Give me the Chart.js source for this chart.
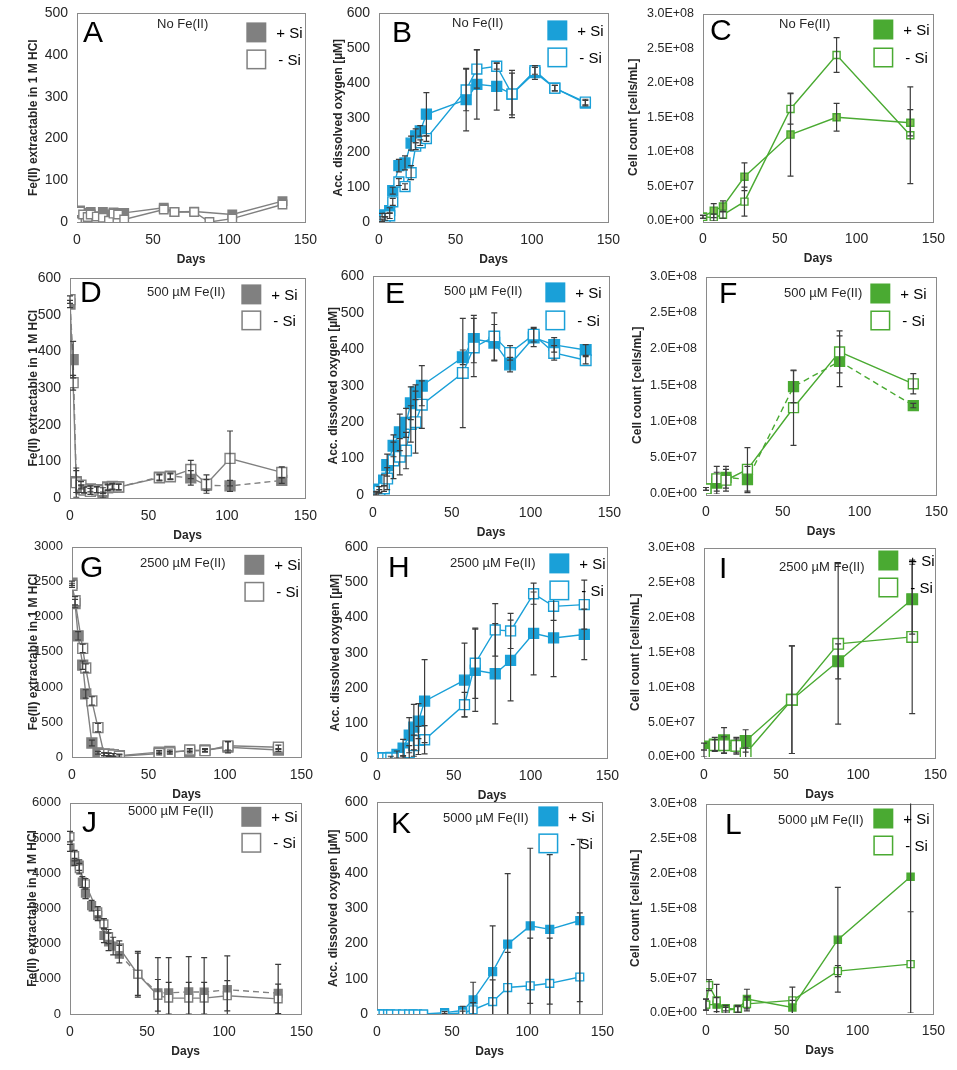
<!DOCTYPE html>
<html><head><meta charset="utf-8">
<script src="https://cdn.jsdelivr.net/npm/chart.js@4"></script>
<style>body{margin:0;background:#fff}#grid{position:relative;width:957px;height:1070px;overflow:hidden}.cell{position:absolute}</style>
</head><body><div id="grid"></div>
<script>
const days = [0, 2, 4, 7, 9, 13, 17, 21, 24, 27, 31, 57, 64, 77, 87, 102, 115, 135];
const cellDays = [0, 7, 13, 27, 57, 87, 135];
const cellDaysI = [0, 7, 13, 21, 27, 57, 87, 135];
const cellDaysL = [0, 2, 7, 13, 21, 27, 57, 87, 135];

// panel A: Fe(II), no Fe
const aDays = [0, 2, 4, 7, 9, 13, 17, 21, 24, 27, 31, 57, 64, 77, 87, 102, 135];
const aPlus = [0, 28, 20, 22, 24, 14, 24, 18, 23, 22, 22, 34, 24, 25, null, 18, 50];
const aMinus = [0, 25, 18, 12, 18, 13, 10, 3, 20, 18, 6, 30, 24, 24, 0, 8, 42];
// panel B: O2, no Fe
const bPlus = [0, 20, 20, 33, 90, 162, 170, 227, 248, 262, 310, 352, 396, 390, 368, 430, 385, 342];
const bPlusErr = [0, 5, 5, 8, 10, 18, 20, 20, 20, 15, 62, 90, 100, 68, 68, 20, 8, 8];
const bMinus = [0, 5, 10, 18, 58, 115, 102, 142, 218, 228, 240, 380, 440, 448, 368, 435, 385, 345];
const bMinusErr = [0, 3, 5, 8, 10, 10, 8, 20, 10, 8, 8, 60, 55, 8, 60, 10, 8, 8];
// panel C: cells, no Fe
const cPlus = [6e6, 1.5e7, 2.1e7, 6.4e7, 1.25e8, 1.5e8, 1.42e8];
const cPlusErr = [2e6, 1e7, 8e6, 2e7, 6e7, 2e7, 1.9e7];
const cMinus = [6e6, 5e6, 9e6, 2.8e7, 1.62e8, 2.4e8, 1.24e8];
const cMinusErr = [2e6, 5e6, 5e6, 2.1e7, 2.2e7, 2.5e7, 7e7];
// panel D: Fe(II), 500 µM
const dPlus = [530, 378, 45, 25, 22, 25, 23, 8, 30, 32, 30, 57, 60, 55, 35, 33, null, 48];
const dPlusErr = [10, 50, 30, 10, 8, 8, 8, 8, 8, 8, 8, 8, 8, 20, 15, 15, 0, 8];
const dMinus = [542, 315, 42, 35, 22, 18, 22, 20, 28, 30, 30, 55, 58, 78, 38, 108, null, 70];
const dMinusErr = [10, 20, 40, 10, 8, 8, 8, 8, 8, 8, 8, 8, 8, 25, 25, 75, 0, 15];
// panel E: O2, 500 µM
const ePlus = [0, 5, 15, 40, 82, 135, 172, 198, 252, 282, 300, 378, 428, 418, 358, 432, 412, 398];
const ePlusErr = [0, 5, 8, 15, 30, 30, 50, 40, 45, 20, 55, 20, 65, 50, 20, 25, 20, 15];
const eMinus = [0, 3, 10, 18, 45, 95, 105, 122, 195, 200, 248, 335, 405, 435, 390, 440, 390, 370];
const eMinusErr = [0, 3, 5, 8, 30, 50, 50, 50, 50, 85, 65, 150, 80, 65, 20, 20, 20, 10];
// panel F: cells, 500 µM
const fPlus = [7e6, 1.5e7, 2.3e7, 2e7, 1.48e8, 1.83e8, 1.22e8];
const fPlusErr = [2e6, 1.5e7, 1.5e7, 1.8e7, 2.2e7, 3.5e7, 3e6];
const fMinus = [7e6, 2.1e7, 1.9e7, 3.4e7, 1.19e8, 1.96e8, 1.52e8];
const fMinusErr = [2e6, 1.7e7, 1.5e7, 3e7, 5.2e7, 2.9e7, 1.4e7];
// panel G: Fe(II), 2500 µM
const gPlus = [2480, 2190, 1730, 1310, 900, 200, 60, 40, 30, 30, 20, 70, 80, 80, 100, 140, null, 100];
const gPlusErr = [30, 60, 60, 60, 60, 40, 20, 20, 20, 20, 20, 20, 20, 20, 20, 80, 0, 20];
const gMinus = [2450, 2230, null, 1550, 1270, 800, 420, 40, 40, 30, 10, 50, 60, 100, 90, 160, null, 140];
const gMinusErr = [30, 60, 0, 60, 60, 60, 60, 20, 20, 20, 20, 20, 20, 20, 20, 60, 0, 30];
// panel H: O2, 2500 µM
const hPlus = [0, 0, 0, 0, 2, 10, 28, 65, 88, 105, 162, 222, 250, 240, 278, 355, 342, 352];
const hPlusErr = [0, 0, 0, 0, 3, 10, 25, 50, 65, 50, 118, 105, 117, 143, 115, 118, 110, 72];
const hMinus = [0, 0, 0, 0, 0, 0, 2, 15, 35, 50, 52, 152, 270, 365, 362, 468, 432, 437];
const hMinusErr = [0, 0, 0, 0, 0, 0, 5, 20, 30, 40, 40, 35, 100, 75, 50, 30, 40, 70];
// panel I: cells, 2500 µM
const iPlus = [1.5e7, 1.8e7, 2.4e7, 1.6e7, 2.3e7, 8.2e7, 1.37e8, 2.26e8];
const iPlusErr = [5e6, 1e7, 1.8e7, 1.2e7, 1.6e7, 7.7e7, 2.5e7, 5e7];
const iMinus = [5e6, 1.7e7, 1.7e7, 1.6e7, 5e6, 8.2e7, 1.62e8, 1.72e8];
const iMinusErr = [5e6, 8e6, 1.2e7, 1e7, 8e6, 7.7e7, 1.15e8, 1.1e8];
// panel J: Fe(II), 5000 µM
const jDays = [0, 3, 6, 8, 10, 14, 18, 22, 25, 28, 32, 44, 57, 64, 77, 87, 102, 135];
const jPlus = [4720, 4320, 4230, 3750, 3430, 3080, 2800, 2230, 2050, 1930, 1700, 1130, 600, 600, 630, 620, 690, 590];
const jPlusErr = [100, 100, 150, 150, 150, 150, 150, 200, 250, 250, 250, 650, 1000, 1000, 1000, 980, 960, 820];
const jMinus = [5040, 4500, 4130, null, 3700, null, 2900, 2560, 2200, null, 1880, 1130, 530, 450, 450, 450, 520, 430];
const jMinusErr = [150, 150, 150, 0, 150, 0, 150, 150, 200, 0, 200, 600, 450, 450, 450, 450, 430, 420];
// panel K: O2, 5000 µM
const kDays = [0, 2, 4, 7, 9, 13, 17, 21, 24, 27, 31, 45, 57, 64, 77, 87, 102, 115, 135];
const kPlus = [0, 0, 0, 0, 0, 0, 0, 0, 0, 0, 0, 4, 10, 40, 120, 198, 250, 240, 265];
const kPlusErr = [0, 0, 0, 0, 0, 0, 0, 0, 0, 0, 0, 3, 12, 50, 130, 200, 220, 212, 230];
const kMinus = [0, 0, 0, 0, 0, 0, 0, 0, 0, 0, 0, 0, 3, 12, 35, 75, 80, 87, 105];
const kMinusErr = [0, 0, 0, 0, 0, 0, 0, 0, 0, 0, 0, 0, 5, 20, 62, 100, 135, 128, 182];
// panel L: cells, 5000 µM
const lPlus = [1.2e7, null, 1.2e7, 7e6, 5e6, 2e7, 8e6, 1.05e8, 1.95e8];
const lPlusErr = [8e6, 0, 1e7, 4e6, 4e6, 1.4e7, 1e7, 7.5e7, 1.95e8];
const lMinus = [1.2e7, 4e7, 1.8e7, 4e6, 6e6, 1.3e7, 1.8e7, 6e7, 7e7];
const lMinusErr = [8e6, 8e6, 2.3e7, 4e6, 5e6, 1e7, 1.9e7, 8e6, 7.5e7];

const grey = "#808080", blue = "#1aa0d8", green = "#4aaa32";
const hclTitle = "Fe(II) extractable in 1 M HCl";
const o2Title = "Acc. dissolved oxygen [µM]";
const cellTitle = "Cell count [cells/mL]";
const FONT = "Arial, 'Liberation Sans', sans-serif";

const errorBars = {
  id: "errorBars",
  afterDatasetsDraw(chart) {
    const c = chart.ctx, ys = chart.scales.y, area = chart.chartArea;
    chart.data.datasets.forEach((ds, di) => {
      const meta = chart.getDatasetMeta(di);
      c.save();
      c.beginPath();
      c.rect(area.left - 5, area.top, area.right - area.left + 10, area.bottom - area.top);
      c.clip();
      c.strokeStyle = "#3c3c3c";
      c.lineWidth = 1.2;
      meta.data.forEach((p, i) => {
        const v = ds.data[i].y, e = ds.err[i];
        if (!e) return;
        const y1 = ys.getPixelForValue(v + e), y2 = ys.getPixelForValue(v - e);
        c.beginPath();
        c.moveTo(p.x, y1); c.lineTo(p.x, y2);
        c.moveTo(p.x - 3, y1); c.lineTo(p.x + 3, y1);
        c.moveTo(p.x - 3, y2); c.lineTo(p.x + 3, y2);
        c.stroke();
      });
      c.restore();
    });
  }
};

const frame = {
  id: "frame",
  beforeDatasetsDraw(chart) {
    const a = chart.chartArea, c = chart.ctx;
    c.save();
    c.strokeStyle = "#8a8a8a";
    c.lineWidth = 1;
    c.strokeRect(Math.round(a.left) + 0.5, Math.round(a.top) + 0.5, Math.round(a.right - a.left), Math.round(a.bottom - a.top));
    c.restore();
  }
};

const panelText = {
  id: "panelText",
  afterDraw(chart) {
    const o = chart.options.plugins.panelText, a = chart.chartArea, c = chart.ctx;
    c.save();
    c.fillStyle = "#000";
    c.textBaseline = "alphabetic";
    c.font = "30px " + FONT;
    c.fillText(o.letter, a.left + o.letterPos[0], a.top + o.letterPos[1]);
    c.font = "13px " + FONT;
    c.fillStyle = "#262626";
    c.fillText(o.cond, a.left + o.condPos[0], a.top + o.condPos[1]);
    // legend
    const lx = a.right - o.leg[0], y1 = a.top + o.leg[1], y2 = a.top + o.leg[2];
    c.fillStyle = o.color;
    c.fillRect(lx, y1, 20, 20);
    c.strokeStyle = o.color;
    c.lineWidth = 1.5;
    c.fillStyle = "#fff";
    c.fillRect(lx + 0.75, y2 + 0.75, 18.5, 18.5);
    c.strokeRect(lx + 0.75, y2 + 0.75, 18.5, 18.5);
    c.fillStyle = "#000";
    c.font = "15px " + FONT;
    c.textBaseline = "middle";
    c.fillText("+ Si", lx + 30, y1 + 11);
    c.fillText("- Si", lx + 32, y2 + 11);
    c.restore();
  }
};

function makePanel(cfg) {
  const [L, T, R, B] = cfg.box;
  const yw = cfg.yw, xh = 45, padT = 12, padR = 16;
  const tickSize = cfg.tick || 14;
  const div = document.createElement("div");
  div.className = "cell";
  document.getElementById("grid").appendChild(div);
  const ds = (x, y, e, filled, dash, fill) => {
    const data = [], err = [];
    x.forEach((d, i) => {
      if (y[i] == null) return;
      data.push({ x: d, y: y[i] });
      err.push(e ? e[i] : 0);
    });
    return {
      data, err,
      borderColor: cfg.color, backgroundColor: filled ? cfg.color : "#fff",
      pointStyle: "rect", pointRadius: cfg.pr, pointBorderColor: cfg.color,
      pointBackgroundColor: filled ? (fill || cfg.color) : "#fff", pointBorderWidth: 1.4,
      borderWidth: 1.4, borderDash: dash ? [6, 4] : [], tension: 0
    };
  };
  const build = (left, top, width, height) => {
    width = Math.round(width); height = Math.round(height);
    div.style.left = left + "px";
    div.style.top = top + "px";
    div.innerHTML = "";
    const cv = document.createElement("canvas");
    cv.width = width; cv.height = height;
    cv.style.width = width + "px"; cv.style.height = height + "px";
    div.appendChild(cv);
    return new Chart(cv, {
      type: "line",
      data: {
        datasets: [
          ds(cfg.xm, cfg.minus, cfg.minusErr, false, cfg.dashMinus),
          ds(cfg.xp, cfg.plus, cfg.plusErr, true, cfg.dashPlus, cfg.plusFill)
        ]
      },
      options: {
        animation: false, responsive: false, devicePixelRatio: 1,
        layout: { padding: { left: 0, right: padR, top: padT, bottom: 0 } },
        plugins: {
          legend: { display: false }, tooltip: { enabled: false },
          panelText: { letter: cfg.letter, letterPos: cfg.letterPos, cond: cfg.cond, condPos: cfg.condPos, leg: cfg.leg, color: cfg.color }
        },
        scales: {
          x: {
            type: "linear", min: 0, max: 150,
            afterFit: s => { s.height = xh; },
            ticks: { stepSize: 50, color: "#262626", font: { size: 14, family: FONT }, padding: 10, maxRotation: 0 },
            grid: { display: false, drawTicks: false, tickLength: 0 },
            border: { display: false },
            title: { display: true, text: "Days", font: { size: 12, weight: "bold", family: FONT }, color: "#262626", padding: 0 }
          },
          y: {
            min: 0, max: cfg.ymax,
            afterFit: s => { s.width = yw; },
            ticks: {
              stepSize: cfg.step, color: "#262626", font: { size: tickSize, family: FONT }, padding: 9,
              callback: cfg.sci ? v => v.toExponential(1).toUpperCase().replace("E+", "E+0") : v => v
            },
            grid: { display: false, drawTicks: false, tickLength: 0 },
            border: { display: false },
            title: { display: true, text: cfg.ytitle, font: { size: 12, weight: "bold", family: FONT }, color: "#262626", padding: 0 }
          }
        }
      },
      plugins: [frame, errorBars, panelText]
    });
  };
  // size a canvas, see where the plot area lands, then rebuild it where the figure has it
  let w = R - L + yw + padR, h = B - T + padT + xh;
  let chart = build(L - yw, T - padT, w, h);
  for (let k = 0; k < 2; k++) {
    const ca = chart.chartArea;
    w += (R - L) - (ca.right - ca.left);
    h += (B - T) - (ca.bottom - ca.top);
    chart.destroy();
    chart = build(L - ca.left, T - ca.top, w, h);
  }
  const ca = chart.chartArea;
  div.style.left = (L - ca.left) + "px";
  div.style.top = (T - ca.top) + "px";
}

makePanel({ box: [77, 13, 306, 221], yw: 51, letter: "A", letterPos: [6, 29], cond: "No Fe(II)", condPos: [80, 15], leg: [59, 9, 36], color: grey, ymax: 500, step: 100, ytitle: hclTitle, xp: aDays, plus: aPlus, xm: aDays, minus: aMinus, pr: 6 });
makePanel({ box: [379, 13, 609, 221], yw: 48, letter: "B", letterPos: [13, 29], cond: "No Fe(II)", condPos: [73, 14], leg: [61, 7, 34], color: blue, ymax: 600, step: 100, ytitle: o2Title, xp: days, plus: bPlus, plusErr: bPlusErr, xm: days, minus: bMinus, minusErr: bMinusErr, pr: 7 });
makePanel({ box: [703, 13, 934, 221], yw: 77, tick: 12.5, letter: "C", letterPos: [7, 26], cond: "No Fe(II)", condPos: [76, 14], leg: [60, 6, 34], color: green, ymax: 3e8, step: 5e7, sci: true, ytitle: cellTitle, xp: cellDays, plus: cPlus, plusErr: cPlusErr, xm: cellDays, minus: cMinus, minusErr: cMinusErr, pr: 5, plusFill: "#7cc24f" });

makePanel({ box: [70, 278, 306, 497], yw: 44, letter: "D", letterPos: [10, 24], cond: "500 µM Fe(II)", condPos: [77, 18], leg: [64, 6, 32], color: grey, ymax: 600, step: 100, ytitle: hclTitle, xp: days, plus: dPlus, plusErr: dPlusErr, xm: days, minus: dMinus, minusErr: dMinusErr, dashPlus: true, pr: 7 });
makePanel({ box: [373, 276, 610, 494], yw: 47, letter: "E", letterPos: [12, 27], cond: "500 µM Fe(II)", condPos: [71, 19], leg: [64, 6, 34], color: blue, ymax: 600, step: 100, ytitle: o2Title, xp: days, plus: ePlus, plusErr: ePlusErr, xm: days, minus: eMinus, minusErr: eMinusErr, pr: 7.5 });
makePanel({ box: [706, 276, 937, 494], yw: 76, tick: 12.5, letter: "F", letterPos: [13, 26], cond: "500 µM Fe(II)", condPos: [78, 20], leg: [66, 7, 34], color: green, ymax: 3e8, step: 5e7, sci: true, ytitle: cellTitle, xp: cellDays, plus: fPlus, plusErr: fPlusErr, xm: cellDays, minus: fMinus, minusErr: fMinusErr, dashPlus: true, pr: 7 });

makePanel({ box: [72, 547, 302, 757], yw: 46, tick: 13, letter: "G", letterPos: [8, 30], cond: "2500 µM Fe(II)", condPos: [68, 20], leg: [57, 8, 35], color: grey, ymax: 3000, step: 500, ytitle: hclTitle, xp: days, plus: gPlus, plusErr: gPlusErr, xm: days, minus: gMinus, minusErr: gMinusErr, pr: 7 });
makePanel({ box: [377, 547, 608, 757], yw: 49, letter: "H", letterPos: [11, 30], cond: "2500 µM Fe(II)", condPos: [73, 20], leg: [58, 6, 33], color: blue, ymax: 600, step: 100, ytitle: o2Title, xp: days, plus: hPlus, plusErr: hPlusErr, xm: days, minus: hMinus, minusErr: hMinusErr, pr: 7 });
makePanel({ box: [704, 547, 936, 757], yw: 76, tick: 12.5, letter: "I", letterPos: [15, 30], cond: "2500 µM Fe(II)", condPos: [75, 23], leg: [57, 3, 30], color: green, ymax: 3e8, step: 5e7, sci: true, ytitle: cellTitle, xp: cellDaysI, plus: iPlus, plusErr: iPlusErr, xm: cellDaysI, minus: iMinus, minusErr: iMinusErr, pr: 7.5 });

makePanel({ box: [70, 803, 302, 1014], yw: 45, tick: 13, letter: "J", letterPos: [12, 29], cond: "5000 µM Fe(II)", condPos: [58, 12], leg: [60, 4, 30], color: grey, ymax: 6000, step: 1000, ytitle: hclTitle, xp: jDays, plus: jPlus, plusErr: jPlusErr, xm: jDays, minus: jMinus, minusErr: jMinusErr, dashPlus: true, pr: 5.5 });
makePanel({ box: [377, 802, 603, 1013], yw: 51, letter: "K", letterPos: [14, 31], cond: "5000 µM Fe(II)", condPos: [66, 20], leg: [64, 4, 31], color: blue, ymax: 600, step: 100, ytitle: o2Title, xp: kDays, plus: kPlus, plusErr: kPlusErr, xm: kDays, minus: kMinus, minusErr: kMinusErr, pr: 5.5 });
makePanel({ box: [706, 803, 934, 1013], yw: 78, tick: 12.5, letter: "L", letterPos: [19, 30], cond: "5000 µM Fe(II)", condPos: [72, 20], leg: [60, 5, 32], color: green, ymax: 3e8, step: 5e7, sci: true, ytitle: cellTitle, xp: cellDaysL, plus: lPlus, plusErr: lPlusErr, xm: cellDaysL, minus: lMinus, minusErr: lMinusErr, pr: 5 });
</script>
</body></html>
